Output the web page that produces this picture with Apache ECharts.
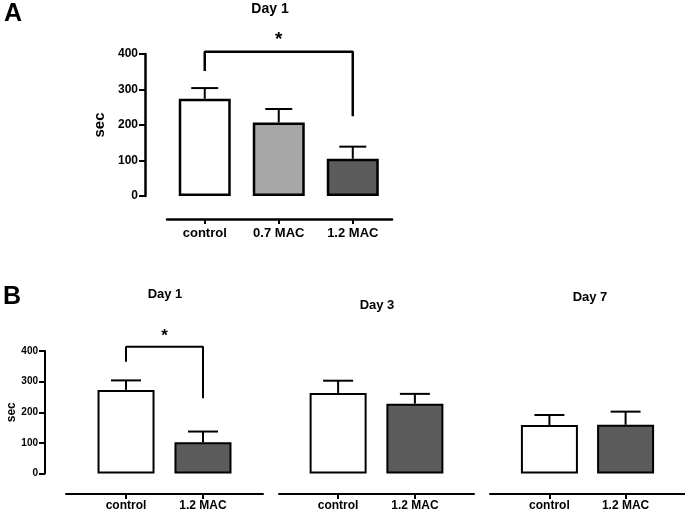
<!DOCTYPE html>
<html>
<head>
<meta charset="utf-8">
<script src="https://cdn.jsdelivr.net/npm/echarts@6/dist/echarts.min.js"></script>
<style>html,body{margin:0;padding:0;background:#fff}#c{width:685px;height:512px}</style>
</head>
<body>
<div id="c"></div>
<script>
// ---- data ----
const groupsA = ['control', '0.7 MAC', '1.2 MAC'];
const meanA = [274, 207, 105];
const errA = [30, 38, 34];
const colorsA = ['#ffffff', '#a7a7a7', '#5c5c5c'];

const groupsB = ['control', '1.2 MAC'];
const panelTitlesB = ['Day 1', 'Day 3', 'Day 7'];
const meanB1 = [273, 102];
const errB1 = [31, 35];
const meanB3 = [263, 228];
const errB3 = [40, 32];
const meanB7 = [158, 159];
const errB7 = [33, 43];
const colorsB = ['#ffffff', '#5c5c5c'];

const yTicks = [0, 100, 200, 300, 400];
// significance brackets: [left leg bottom, top, right leg bottom] in sec
const bracketA = [352, 406, 225];
const bracketB1 = [365, 414, 246];

// ---- layout ----
const FONT = 'Liberation Sans, Arial, Helvetica, sans-serif';
const panels = [
  {groups: groupsA, mean: meanA, err: errA, colors: colorsA, grid: {left: 167, width: 225, top: 54, height: 142},
   xmin: -0.51, xmax: 2.53, xoff: 23, yoff: 22, showY: true, big: true, bracket: bracketA, barW: 52, capW: 27},
  {groups: groupsB, mean: meanB1, err: errB1, colors: colorsB, grid: {left: 66, width: 197, top: 351, height: 122.5},
   xmin: -0.78, xmax: 1.78, xoff: 20.5, yoff: 21, showY: true, big: false, bracket: bracketB1, barW: 57, capW: 30},
  {groups: groupsB, mean: meanB3, err: errB3, colors: colorsB, grid: {left: 279, width: 195, top: 351, height: 122.5},
   xmin: -0.77, xmax: 1.77, xoff: 20.5, yoff: 0, showY: false, big: false, bracket: null, barW: 57, capW: 30},
  {groups: groupsB, mean: meanB7, err: errB7, colors: colorsB, grid: {left: 490, width: 195, top: 351, height: 122.5},
   xmin: -0.78, xmax: 1.78, xoff: 20.5, yoff: 0, showY: false, big: false, bracket: null, barW: 57, capW: 30}
];

const grid = [], xAxis = [], yAxis = [], series = [];
panels.forEach((p, k) => {
  grid.push(Object.assign({outerBoundsMode: 'none', containLabel: false}, p.grid));
  const idx = p.groups.map((_, i) => i);
  const lw = p.big ? 2.5 : 2;
  xAxis.push({
    type: 'value', gridIndex: k, min: p.xmin, max: p.xmax, offset: p.xoff,
    splitLine: {show: false},
    axisLine: {show: true, onZero: false, lineStyle: {color: '#000', width: lw}},
    axisTick: {show: true, customValues: idx, length: 5, lineStyle: {color: '#000', width: 2}},
    axisLabel: {show: true, customValues: idx, formatter: v => p.groups[Math.round(v)] || '',
      color: '#000', fontWeight: 'bold', fontFamily: FONT, fontSize: p.big ? 13 : 12, margin: p.big ? 8 : 6}
  });
  yAxis.push({
    type: 'value', gridIndex: k, min: 0, max: 400, interval: 100, offset: p.yoff, show: p.showY,
    splitLine: {show: false},
    name: p.showY ? 'sec' : '', nameLocation: 'middle', nameRotate: 90, nameGap: p.big ? 38 : 23,
    nameTextStyle: {color: '#000', fontWeight: 'bold', fontFamily: FONT, fontSize: p.big ? 15 : 12},
    axisLine: {show: true, onZero: false, lineStyle: {color: '#000', width: lw}},
    axisTick: {show: true, length: 6, lineStyle: {color: '#000', width: 2}},
    axisLabel: {color: '#000', fontWeight: 'bold', fontFamily: FONT, fontSize: p.big ? 12 : 10, margin: 7,
      customValues: yTicks}
  });
  series.push({
    type: 'bar', xAxisIndex: k, yAxisIndex: k, barWidth: p.barW, z: 3,
    data: p.mean.map((m, i) => ({value: [i, m], itemStyle: {color: p.colors[i]}})),
    itemStyle: {borderColor: '#000', borderWidth: lw}
  });
  series.push({
    type: 'custom', xAxisIndex: k, yAxisIndex: k, z: 2, clip: false,
    data: p.mean.map((m, i) => [i, m, m + p.err[i]]),
    renderItem: (params, api) => {
      const x = api.value(0);
      const b = api.coord([x, api.value(1)]);
      const t = api.coord([x, api.value(2)]);
      const st = {stroke: '#000', lineWidth: 2};
      return {type: 'group', children: [
        {type: 'line', shape: {x1: b[0], y1: b[1], x2: t[0], y2: t[1]}, style: st},
        {type: 'line', shape: {x1: t[0] - p.capW / 2, y1: t[1], x2: t[0] + p.capW / 2, y2: t[1]}, style: st}
      ]};
    }
  });
  if (p.bracket) {
    const last = p.groups.length - 1;
    series.push({
      type: 'line', xAxisIndex: k, yAxisIndex: k, clip: false, symbol: 'none', z: 4,
      lineStyle: {color: '#000', width: lw}, animation: false,
      data: [[0, p.bracket[0]], [0, p.bracket[1]], [last, p.bracket[1]], [last, p.bracket[2]]]
    });
    series.push({
      type: 'custom', xAxisIndex: k, yAxisIndex: k, clip: false, z: 4,
      data: [[last / 2, p.bracket[1]]],
      renderItem: (params, api) => {
        const c = api.coord([api.value(0), api.value(1)]);
        return {type: 'text', x: c[0], y: c[1] - (p.big ? 3 : 2),
          style: {text: '*', fill: '#000', font: 'bold ' + (p.big ? 19 : 17) + 'px ' + FONT,
            textAlign: 'center', textVerticalAlign: 'bottom'}};
      }
    });
  }
});

const txt = (t, x, y, size) => ({type: 'text', x: x, y: y,
  style: {text: t, fill: '#000', font: 'bold ' + size + 'px ' + FONT, textAlign: 'center', textVerticalAlign: 'middle'}});

const chart = echarts.init(document.getElementById('c'), null, {renderer: 'canvas'});
chart.setOption({
  backgroundColor: '#fff',
  animation: false,
  grid, xAxis, yAxis, series,
  graphic: [
    txt('A', 13, 14, 25),
    txt('B', 12, 297, 25),
    txt('Day 1', 270, 9, 14),
    txt(panelTitlesB[0], 165, 294, 13),
    txt(panelTitlesB[1], 377, 305, 13),
    txt(panelTitlesB[2], 590, 297, 13)
  ]
});
</script>
</body>
</html>
